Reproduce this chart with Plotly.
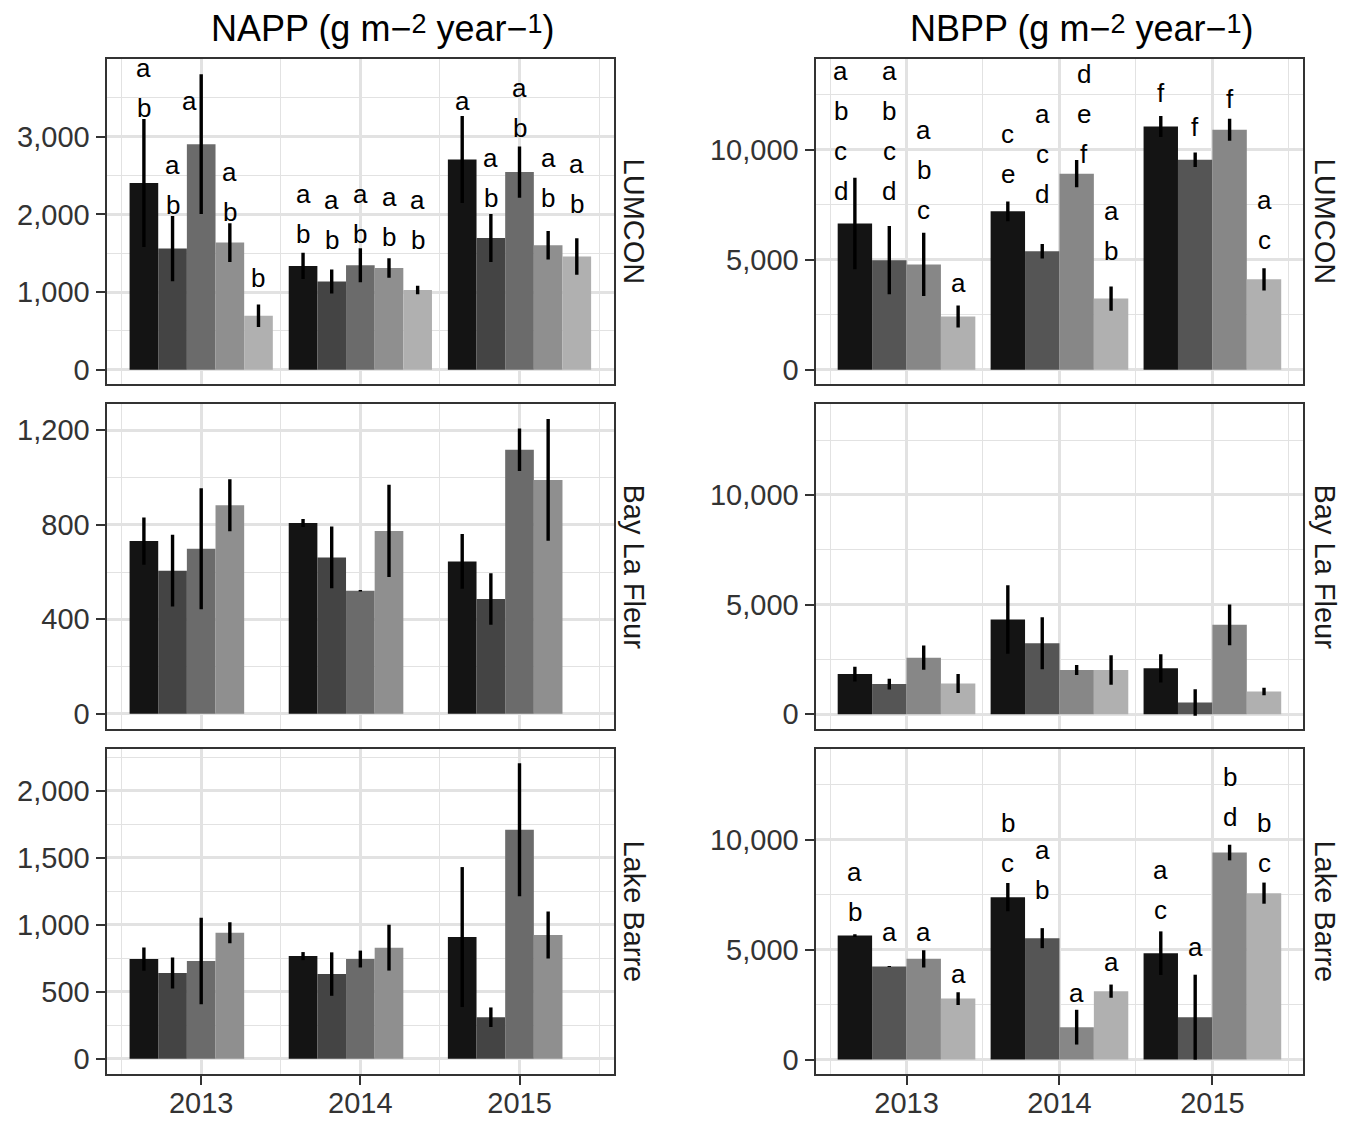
import plotly.graph_objects as go

W, H = 1360, 1126
FONT = "Liberation Sans, Arial, Helvetica, sans-serif"

years = [2013, 2014, 2015]
sites = ["LUMCON", "Bay La Fleur", "Lake Barre"]
napp_treatments = ["T1", "T2", "T3", "T4", "T5"]
nbpp_treatments = ["T1", "T2", "T3", "T4"]

napp_colors = ["#141414", "#444444", "#6b6b6b", "#8f8f8f", "#b0b0b0"]
nbpp_colors = ["#141414", "#555555", "#878787", "#b0b0b0"]

# ---- NAPP: mean and standard error (rows = years, columns = treatments) ----
napp_lumcon_mean = [[2404, 1560, 2905, 1637, 694],
                    [1337, 1136, 1346, 1311, 1028],
                    [2708, 1697, 2545, 1603, 1458]]
napp_lumcon_se = [[825, 420, 900, 250, 145],
                  [170, 155, 220, 125, 55],
                  [560, 310, 330, 185, 235]]
napp_lumcon_letters = [["ab", "ab", "a", "ab", "b"],
                       ["ab", "ab", "ab", "ab", "ab"],
                       ["a", "ab", "ab", "ab", "ab"]]
napp_lumcon_label_y = [[3377, 2121, 3458, 2036, 1175],
                       [1744, 1671, 1744, 1715, 1671],
                       [3458, 2216, 3116, 2216, 2130]]

napp_blf_mean = [[731, 606, 699, 883],
                 [808, 662, 521, 774],
                 [645, 486, 1118, 990]]
napp_blf_se = [[100, 152, 256, 110],
               [17, 131, 3, 195],
               [116, 109, 90, 258]]

napp_lb_mean = [[744, 640, 729, 940],
                [766, 632, 744, 829],
                [908, 310, 1709, 923]]
napp_lb_se = [[87, 115, 323, 78],
              [30, 162, 63, 171],
              [522, 73, 496, 175]]

# ---- NBPP ----
nbpp_lumcon_mean = [[6647, 4984, 4789, 2420],
                    [7204, 5392, 8913, 3235],
                    [11056, 9547, 10906, 4110]]
nbpp_lumcon_se = [[2080, 1550, 1440, 500],
                  [450, 330, 620, 550],
                  [480, 330, 500, 510]]
nbpp_lumcon_letters = [["abcd", "abcd", "abc", "a"],
                       ["ce", "acd", "def", "ab"],
                       ["f", "f", "f", "ac"]]
nbpp_lumcon_label_y = [[8111, 8111, 7282, 3960],
                       [8913, 8006, 9819, 5392],
                       [12569, 11056, 12297, 5890]]

nbpp_blf_mean = [[1831, 1373, 2579, 1404],
                 [4319, 3236, 2015, 2015],
                 [2091, 535, 4075, 1038]]
nbpp_blf_se = [[335, 245, 550, 435],
               [1565, 1190, 230, 670],
               [640, 600, 930, 170]]

nbpp_lb_mean = [[5636, 4227, 4577, 2773],
                [7382, 5518, 1473, 3109],
                [4836, 1927, 9409, 7564]]
nbpp_lb_se = [[60, 20, 390, 290],
              [640, 455, 790, 300],
              [990, 1930, 355, 480]]
nbpp_lb_letters = [["ab", "a", "a", "a"],
                   ["bc", "ab", "a", "a"],
                   ["ac", "a", "bd", "bc"]]
nbpp_lb_label_y = [[6727, 5818, 5818, 3895],
                   [8941, 7727, 3032, 4455],
                   [6818, 5109, 11018, 8941]]

# small horizontal nudges (px) for letter stacks that would touch an error bar
label_nudge = {("NBPP", "LUMCON", 0, 0): -14,
               ("NAPP", "LUMCON", 0, 2): -12,
               ("NBPP", "LUMCON", 1, 2): 7}

# ---- layout geometry (pixels) ----
col_px = [(106.5, 614.2), (815.5, 1303.4)]
row_px = [(59, 385), (405, 730), (750, 1076)]
strip_x = [634, 1325]
title_x = [383, 1082]
EXP = '<span style="font-size:27px;baseline-shift:8px">{}</span>'
titles = ["NAPP (g m\u2212" + EXP.format("2") + " year\u2212" + EXP.format("1") + ")",
          "NBPP (g m\u2212" + EXP.format("2") + " year\u2212" + EXP.format("1") + ")"]

nbpp_range = [-660, 14130]
panels = [
    dict(var="NAPP", site="LUMCON", col=0, row=0, mean=napp_lumcon_mean, se=napp_lumcon_se,
         letters=napp_lumcon_letters, label_y=napp_lumcon_label_y, slots=5, colors=napp_colors,
         yrange=[-188, 4003], ticks=[0, 1000, 2000, 3000], minor=[500, 1500, 2500, 3500]),
    dict(var="NBPP", site="LUMCON", col=1, row=0, mean=nbpp_lumcon_mean, se=nbpp_lumcon_se,
         letters=nbpp_lumcon_letters, label_y=nbpp_lumcon_label_y, slots=4, colors=nbpp_colors,
         yrange=nbpp_range, ticks=[0, 5000, 10000], minor=[2500, 7500, 12500]),
    dict(var="NAPP", site="Bay La Fleur", col=0, row=1, mean=napp_blf_mean, se=napp_blf_se,
         letters=None, label_y=None, slots=5, colors=napp_colors,
         yrange=[-63, 1310], ticks=[0, 400, 800, 1200], minor=[200, 600, 1000]),
    dict(var="NBPP", site="Bay La Fleur", col=1, row=1, mean=nbpp_blf_mean, se=nbpp_blf_se,
         letters=None, label_y=None, slots=4, colors=nbpp_colors,
         yrange=nbpp_range, ticks=[0, 5000, 10000], minor=[2500, 7500, 12500]),
    dict(var="NAPP", site="Lake Barre", col=0, row=2, mean=napp_lb_mean, se=napp_lb_se,
         letters=None, label_y=None, slots=5, colors=napp_colors,
         yrange=[-114, 2313], ticks=[0, 500, 1000, 1500, 2000], minor=[250, 750, 1250, 1750, 2250]),
    dict(var="NBPP", site="Lake Barre", col=1, row=2, mean=nbpp_lb_mean, se=nbpp_lb_se,
         letters=nbpp_lb_letters, label_y=nbpp_lb_label_y, slots=4, colors=nbpp_colors,
         yrange=nbpp_range, ticks=[0, 5000, 10000], minor=[2500, 7500, 12500]),
]

DODGE = 0.9
GRID = "#e2e2e2"
BORDER = "#333333"
LINE_STEP = 40  # px between stacked letters

fig = go.Figure()
layout = dict(
    width=W, height=H, margin=dict(l=0, r=0, t=0, b=0),
    paper_bgcolor="white", plot_bgcolor="white",
    showlegend=False, barmode="overlay",
    font=dict(family=FONT, color="#1a1a1a"),
)
annotations = []

for i, p in enumerate(panels, start=1):
    xa, ya = f"x{i}", f"y{i}"
    xkey, ykey = ("xaxis" if i == 1 else f"xaxis{i}"), ("yaxis" if i == 1 else f"yaxis{i}")
    x0, x1 = col_px[p["col"]]
    y0, y1 = row_px[p["row"]]
    slot_w = DODGE / p["slots"]
    n_treat = len(p["mean"][0])
    names = napp_treatments if p["var"] == "NAPP" else nbpp_treatments

    for k in range(n_treat):
        off = -DODGE / 2 + slot_w * (k + 0.5)
        fig.add_trace(go.Bar(
            x=[yr + off for yr in years],
            y=[row[k] for row in p["mean"]],
            width=slot_w,
            name=names[k],
            marker=dict(color=p["colors"][k], line=dict(width=0)),
            error_y=dict(type="data", array=[row[k] for row in p["se"]],
                         visible=True, width=0, thickness=3.4, color="black"),
            xaxis=xa, yaxis=ya,
        ))
        if p["letters"]:
            for j, yr in enumerate(years):
                stack = p["letters"][j][k]
                nudge = label_nudge.get((p["var"], p["site"], j, k), 0)
                for m, ch in enumerate(reversed(stack)):
                    annotations.append(dict(
                        x=yr + off, y=p["label_y"][j][k], xref=xa, yref=ya,
                        text=ch, showarrow=False, xanchor="center", yanchor="middle",
                        xshift=nudge, yshift=LINE_STEP * m,
                        font=dict(size=26, color="black", family=FONT),
                    ))

    bottom = p["row"] == 2
    layout[xkey] = dict(
        domain=[x0 / W, x1 / W], anchor=ya, range=[2012.405, 2015.595],
        tickvals=years, ticktext=[str(y) for y in years],
        showticklabels=bottom, ticks="outside" if bottom else "",
        ticklen=9, tickwidth=2, tickcolor=BORDER, ticklabelstandoff=-7,
        tickfont=dict(size=29, color="#333333"),
        showgrid=True, gridcolor=GRID, gridwidth=2.6,
        minor=dict(tickvals=[2012.5, 2013.5, 2014.5, 2015.5], showgrid=True,
                   gridcolor=GRID, gridwidth=1.3, ticks=""),
        showline=True, linecolor=BORDER, linewidth=2, mirror=True,
        zeroline=False, fixedrange=True,
    )
    layout[ykey] = dict(
        domain=[1 - y1 / H, 1 - y0 / H], anchor=xa, range=p["yrange"],
        tickvals=p["ticks"], tickformat=",", ticks="outside",
        ticklen=9, tickwidth=2, tickcolor=BORDER,
        tickfont=dict(size=29, color="#333333"),
        showgrid=True, gridcolor=GRID, gridwidth=2.6,
        minor=dict(tickvals=p["minor"], showgrid=True, gridcolor=GRID, gridwidth=1.3, ticks=""),
        showline=True, linecolor=BORDER, linewidth=2, mirror=True,
        zeroline=False, fixedrange=True,
    )

# facet strip labels on the right of each row
for c in range(2):
    for r, site in enumerate(sites):
        y0, y1 = row_px[r]
        annotations.append(dict(
            x=strip_x[c] / W, y=1 - (y0 + y1) / 2 / H, xref="paper", yref="paper",
            text=site, textangle=90, showarrow=False, xanchor="center", yanchor="middle",
            font=dict(size=29, color="#1a1a1a", family=FONT),
        ))

# column titles
for c in range(2):
    annotations.append(dict(
        x=title_x[c] / W, y=1 - 29 / H, xref="paper", yref="paper",
        text=titles[c], showarrow=False, xanchor="center", yanchor="middle",
        font=dict(size=36, color="black", family=FONT),
    ))

layout["annotations"] = annotations
fig.update_layout(**layout)
fig.write_html("out.html")
